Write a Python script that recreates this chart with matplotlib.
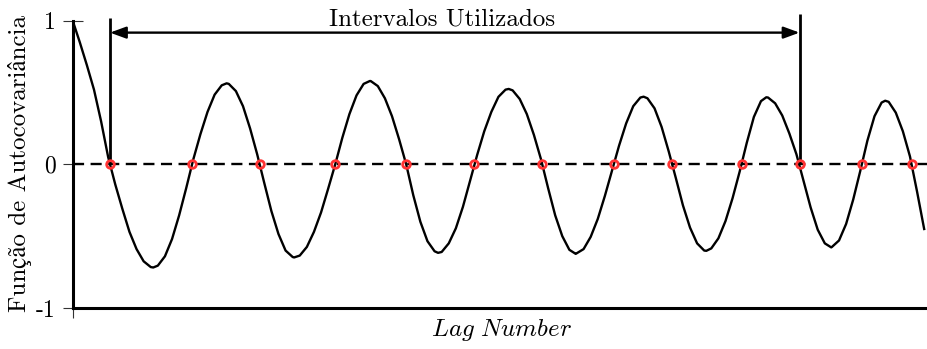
import matplotlib
matplotlib.use('Agg')
import matplotlib.pyplot as plt
import numpy as np

# Autocovariance estimate, one value per lag
lags = np.arange(0, 121)
acf = [
    1.00, 0.85, 0.69, 0.52, 0.30, 0.05, -0.14, -0.31, -0.47, -0.59,
    -0.675, -0.715, -0.705, -0.64, -0.52, -0.355, -0.165, 0.035, 0.21, 0.365,
    0.485, 0.55, 0.56, 0.51, 0.405, 0.25, 0.07, -0.13, -0.325, -0.485,
    -0.60, -0.645, -0.635, -0.575, -0.47, -0.335, -0.17, 0.00, 0.185, 0.35,
    0.48, 0.56, 0.58, 0.545, 0.46, 0.335, 0.175, 0.00, -0.215, -0.40,
    -0.535, -0.605, -0.61, -0.55, -0.445, -0.295, -0.115, 0.065, 0.23, 0.365,
    0.47, 0.52, 0.515, 0.455, 0.35, 0.205, 0.035, -0.165, -0.355, -0.50,
    -0.595, -0.62, -0.59, -0.505, -0.38, -0.22, -0.045, 0.13, 0.285, 0.405,
    0.465, 0.46, 0.39, 0.26, 0.09, -0.095, -0.285, -0.44, -0.55, -0.60,
    -0.585, -0.515, -0.395, -0.235, -0.05, 0.15, 0.33, 0.44, 0.465, 0.425,
    0.34, 0.215, 0.07, -0.115, -0.30, -0.455, -0.55, -0.575, -0.53, -0.415,
    -0.245, -0.045, 0.165, 0.335, 0.43, 0.435, 0.36, 0.23, 0.055, -0.19,
    -0.45,
]

# local peaks / troughs of the curve (lag, value)
peak_lags = [11.35, 21.69, 31.21, 41.87, 51.49, 61.45, 70.89, 80.46, 89.3,
             97.75, 106.9, 114.51]
peak_vals = [-0.718, 0.564, -0.648, 0.58, -0.616, 0.525, -0.623, 0.471,
             -0.602, 0.467, -0.578, 0.443]

# lags where the curve crosses zero
crossings = [5.25, 16.8, 26.38, 36.99, 46.99, 56.62, 66.2, 76.24, 84.51,
             94.27, 102.44, 111.21, 118.31]

ytick_vals = [-1, 0, 1]
ytick_labels = ['-1', '0', '1']

# first and last crossing used for the period estimate
i_start, i_end = 0, 10

plt.rcParams['font.family'] = ['cmr10', 'STIXGeneral']
plt.rcParams['mathtext.fontset'] = 'cm'
plt.rcParams['axes.unicode_minus'] = False
plt.rcParams['axes.formatter.use_mathtext'] = True

x_all = np.concatenate([lags, peak_lags])
y_all = np.concatenate([acf, peak_vals])
order = np.argsort(x_all)
x_all, y_all = x_all[order], y_all[order]

W, H = 927, 349
fig = plt.figure(figsize=(W / 100, H / 100), dpi=100)
ax = fig.add_axes([72.7 / W, (H - 308) / H, (W - 72.7) / W, (308 - 20.7) / H])

ax.plot(x_all, y_all, color='black', lw=1.7, zorder=3,
        solid_joinstyle='round')
ax.axhline(0, color='black', lw=1.7, ls=(0, (4.7, 2.75)), zorder=2)
ax.plot(crossings, np.zeros(len(crossings)), 'o', ms=5.5, mfc='none',
        mec='#ff3333', mew=2.0, zorder=4)

x0, x1 = crossings[i_start], crossings[i_end]
ax.plot([x0, x0], [0, 1.02], color='black', lw=2.0, clip_on=False,
        solid_capstyle='butt', zorder=3)
ax.plot([x1, x1], [0, 1.05], color='black', lw=2.0, clip_on=False,
        solid_capstyle='butt', zorder=3)
ax.annotate('', xy=(x0, 0.917), xytext=(x1, 0.917), annotation_clip=False,
            arrowprops=dict(arrowstyle='<|-|>,head_length=0.6,head_width=0.22',
                            mutation_scale=16, lw=1.7, color='black',
                            shrinkA=0, shrinkB=0))
ax.text(52.0, 0.97, 'Intervalos Utilizados', ha='center', va='baseline',
        fontsize=18)

ax.set_xlim(0, 120.4)
ax.set_ylim(-1, 1)
ax.set_yticks(ytick_vals, labels=ytick_labels)
ax.set_xticks([0], labels=[''])
ax.tick_params(direction='inout', length=14.5, width=0.8, color='#333333',
               labelsize=17, pad=5)

for side in ['top', 'right']:
    ax.spines[side].set_visible(False)
for side in ['left', 'bottom']:
    ax.spines[side].set_linewidth(2.2)

fig.text(20 / W, (H - 163) / H, 'Função de Autocovariância', rotation=90,
         ha='center', va='center', fontsize=18)
fig.text(501 / W, (H - 330) / H, r'$\mathit{Lag\ Number}$', ha='center',
         va='center', fontsize=18)

fig.savefig('out.png', dpi=100, facecolor='white')
